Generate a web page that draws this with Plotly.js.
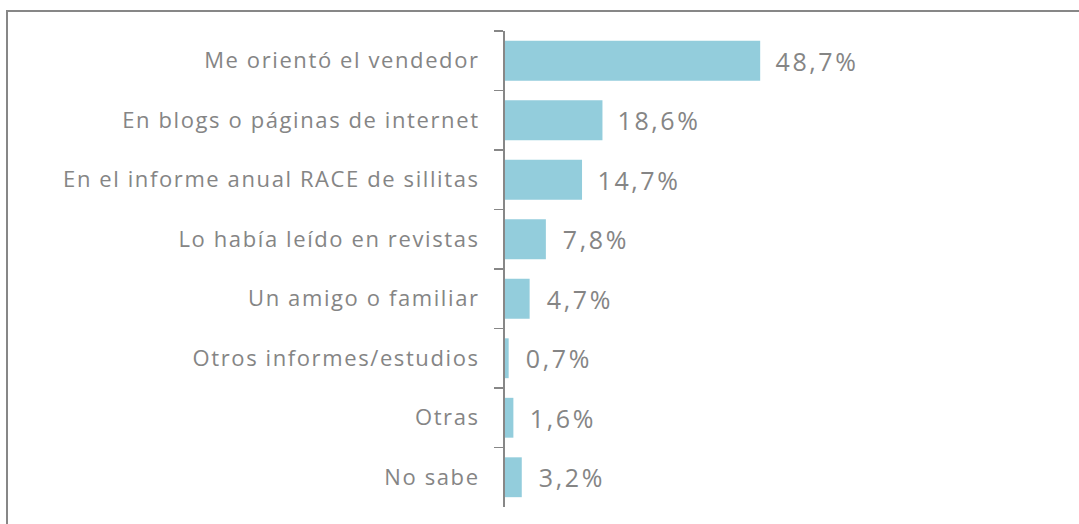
<!DOCTYPE html>
<html>
<head>
<meta charset="utf-8">
<script src="https://cdn.plot.ly/plotly-3.0.1.min.js"></script>
<style>
html,body{margin:0;padding:0;background:#fff;}
#frame{position:absolute;left:6px;top:10px;width:1100px;height:600px;border-left:2px solid #878787;border-top:2px solid #878787;}
#chart{position:absolute;left:0;top:0;width:1079px;height:524px;}
#chart .ytick text{letter-spacing:1.6px;}
#chart .annotation-text{letter-spacing:2.6px;}
</style>
</head>
<body>
<div id="frame"></div>
<div id="chart"></div>
<script>
const categories = [
  "Me orientó el vendedor",
  "En blogs o páginas de internet",
  "En el informe anual RACE de sillitas",
  "Lo había leído en revistas",
  "Un amigo o familiar",
  "Otros informes/estudios",
  "Otras",
  "No sabe"
];
const values = [48.7, 18.6, 14.7, 7.8, 4.7, 0.7, 1.6, 3.2];
const valueLabels = ["48,7%", "18,6%", "14,7%", "7,8%", "4,7%", "0,7%", "1,6%", "3,2%"];

const trace = {
  type: 'bar',
  orientation: 'h',
  x: values,
  y: categories,
  marker: {color: '#93CDDC', line: {width: 0}},
  hoverinfo: 'none'
};

const annotations = values.map((v, i) => ({
  x: v, y: categories[i], xref: 'x', yref: 'y',
  text: valueLabels[i], showarrow: false,
  xanchor: 'left', yanchor: 'middle', xshift: 20, yshift: 0,
  font: {family: '"Open Sans", sans-serif', size: 25, color: '#858585'}
}));

const layout = {
  width: 1079, height: 524,
  margin: {l: 505, r: 50, t: 31, b: 17, pad: 0},
  paper_bgcolor: 'rgba(0,0,0,0)',
  plot_bgcolor: 'rgba(0,0,0,0)',
  showlegend: false,
  bargap: 0.33,
  xaxis: {range: [0, 100], visible: false, fixedrange: true},
  yaxis: {
    type: 'category',
    range: [7.5, -0.5],
    showline: true, linecolor: '#878787', linewidth: 2,
    ticks: 'outside', tickson: 'boundaries', ticklen: 9, tickwidth: 1.5, tickcolor: '#878787',
    showgrid: false, zeroline: false,
    ticklabelstandoff: 19,
    tickfont: {family: '"Open Sans", sans-serif', size: 22, color: '#858585'},
    fixedrange: true
  },
  annotations: annotations
};

Plotly.newPlot('chart', [trace], layout, {displayModeBar: false, staticPlot: true});
</script>
</body>
</html>
